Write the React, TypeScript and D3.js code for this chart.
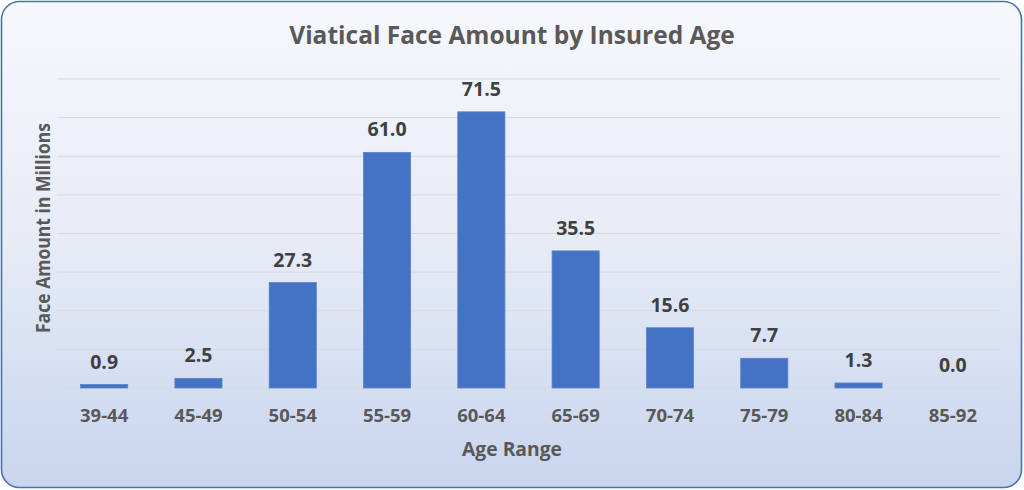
import React from "react";
import * as d3 from "d3";

const categories = ["39-44", "45-49", "50-54", "55-59", "60-64", "65-69", "70-74", "75-79", "80-84", "85-92"];
const values = [0.9, 2.5, 27.3, 61.0, 71.5, 35.5, 15.6, 7.7, 1.3, 0.0];
const gridTicks = [0, 10, 20, 30, 40, 50, 60, 70, 80];
const title = "Viatical Face Amount by Insured Age";
const xTitle = "Age Range";
const yTitle = "Face Amount in Millions";

const W = 1024;
const H = 490;
const M = { left: 57, right: 24, top: 79, bottom: 102 };

export default function App() {
  const x = d3.scaleBand<string>().domain(categories).range([M.left, W - M.right]).paddingInner(0.5).paddingOuter(0.25);
  const y = d3.scaleLinear().domain([0, 80]).range([H - M.bottom, M.top]);
  const font = "'Open Sans', 'Noto Sans', sans-serif";
  return (
    <svg width={W} height={H} style={{ position: "absolute", left: 0, top: 0 }} fontFamily={font}>
      <defs>
        <linearGradient id="bg" x1="0" y1="0" x2="0" y2="1">
          <stop offset="0" stopColor="#f6f8fc" />
          <stop offset="0.5" stopColor="#e6ebf6" />
          <stop offset="1" stopColor="#c8d5ee" />
        </linearGradient>
      </defs>
      <rect x={1.5} y={1.5} width={W - 4} height={H - 4} rx={18} ry={18} fill="url(#bg)" stroke="#4a6fb5" strokeWidth={1.6} />
      <text x={512} y={44} textAnchor="middle" fontSize={24.5} fontWeight="bold" fill="#595959">{title}</text>
      {gridTicks.map((t) => (
        <line key={t} x1={M.left} x2={W - M.right} y1={y(t)} y2={y(t)} stroke="#d9d9d9" strokeWidth={1} />
      ))}
      {categories.map((c, i) => (
        <g key={c}>
          <rect x={x(c)} y={y(values[i])} width={x.bandwidth()} height={y(0) - y(values[i])} fill="#4472c4" stroke="#5b84cc" strokeWidth={0.8} />
          <text x={(x(c) as number) + x.bandwidth() / 2} y={y(values[i]) - 16} textAnchor="middle" fontSize={19.5} fontWeight="bold" fill="#404040">{values[i].toFixed(1)}</text>
          <text x={(x(c) as number) + x.bandwidth() / 2} y={422} textAnchor="middle" fontSize={18.5} fontWeight="bold" fill="#595959">{c}</text>
        </g>
      ))}
      <text x={512} y={456} textAnchor="middle" fontSize={19.3} fontWeight="bold" fill="#595959">{xTitle}</text>
      <text transform={`translate(50,228) rotate(-90)`} textAnchor="middle" fontSize={19} fontWeight="bold" fill="#595959" textLength={210} lengthAdjust="spacingAndGlyphs">{yTitle}</text>
    </svg>
  );
}
